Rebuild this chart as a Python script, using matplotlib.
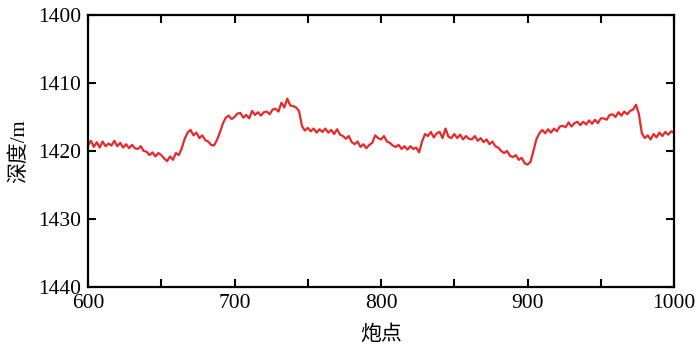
import matplotlib
matplotlib.use('Agg')
import matplotlib.pyplot as plt
import numpy as np
from matplotlib.ticker import MultipleLocator

plt.rcParams['font.family'] = ['Liberation Serif', 'Noto Sans CJK SC']

# shot points (every 2nd) and picked depth
shots = np.arange(600, 1001, 2)
depth = [
    1419.2, 1418.5, 1419.4, 1418.7, 1419.5, 1418.6, 1419.3, 1418.9, 1419.2, 1418.5,
    1419.3, 1418.8, 1419.5, 1419.0, 1419.6, 1419.1, 1419.6, 1419.7, 1419.3, 1420.0,
    1420.1, 1420.6, 1420.2, 1420.8, 1420.3, 1420.6, 1421.1, 1421.5, 1420.8, 1421.3,
    1420.3, 1420.6, 1419.6, 1418.2, 1417.3, 1416.9, 1417.7, 1417.3, 1418.1, 1417.7,
    1418.4, 1418.6, 1419.1, 1419.2, 1418.4, 1417.3, 1416.0, 1415.1, 1414.8, 1415.3,
    1415.0, 1414.5, 1414.4, 1415.1, 1414.7, 1415.2, 1414.1, 1414.7, 1414.3, 1414.8,
    1414.3, 1414.2, 1414.6, 1413.9, 1413.8, 1414.2, 1412.9, 1413.6, 1412.3, 1413.3,
    1413.4, 1413.6, 1414.1, 1416.3, 1417.0, 1416.6, 1417.1, 1416.7, 1417.3, 1416.8,
    1417.2, 1416.7, 1417.3, 1416.9, 1417.5, 1416.8, 1417.6, 1417.8, 1418.2, 1417.8,
    1418.7, 1419.0, 1418.6, 1419.4, 1419.0, 1419.6, 1419.1, 1418.8, 1417.7, 1418.1,
    1418.3, 1417.8, 1418.6, 1418.8, 1419.2, 1419.4, 1419.1, 1419.7, 1419.3, 1419.8,
    1419.3, 1419.7, 1419.5, 1420.2, 1418.6, 1417.5, 1417.8, 1417.2, 1418.0, 1417.4,
    1417.2, 1418.1, 1416.7, 1417.9, 1418.1, 1417.5, 1418.1, 1417.6, 1418.3, 1417.8,
    1418.2, 1418.3, 1417.8, 1418.5, 1418.1, 1418.7, 1418.3, 1419.0, 1418.6, 1419.3,
    1419.5, 1420.0, 1420.3, 1420.0, 1420.7, 1420.9, 1420.6, 1421.3, 1421.0, 1421.8,
    1422.0, 1421.6, 1420.0, 1418.3, 1417.4, 1416.9, 1417.4, 1416.8, 1417.3, 1416.7,
    1417.1, 1416.4, 1416.3, 1416.5, 1415.8, 1416.4, 1415.9, 1415.7, 1416.2, 1415.7,
    1416.1, 1415.5, 1416.0, 1415.4, 1415.9, 1415.2, 1415.2, 1415.4, 1414.7, 1414.6,
    1415.0, 1414.3, 1414.8, 1414.2, 1414.6, 1414.1, 1413.9, 1413.2, 1414.6, 1417.4,
    1418.1, 1417.7, 1418.3, 1417.5, 1418.0, 1417.3, 1417.8, 1417.2, 1417.6, 1417.1,
    1417.3,
]

fig = plt.figure(figsize=(7, 3.54), dpi=100)
ax = fig.add_axes([0.1257, 0.1893, 0.8373, 0.7683])
ax.plot(shots, depth, color='#e62a2a', linewidth=1.6)

ax.set_xlim(600, 1000)
ax.set_ylim(1440, 1400)
ax.xaxis.set_major_locator(MultipleLocator(100))
ax.xaxis.set_minor_locator(MultipleLocator(50))
ax.yaxis.set_major_locator(MultipleLocator(10))
ax.tick_params(which='both', direction='in', length=6, width=1.5,
               top=True, right=True, labelsize=15.5, pad=5)
for s in ax.spines.values():
    s.set_linewidth(1.6)

ax.set_xlabel('炮点', fontsize=15, labelpad=9)
ax.set_ylabel('深度/m', fontsize=15, labelpad=6)

fig.savefig('out.png', dpi=100)
